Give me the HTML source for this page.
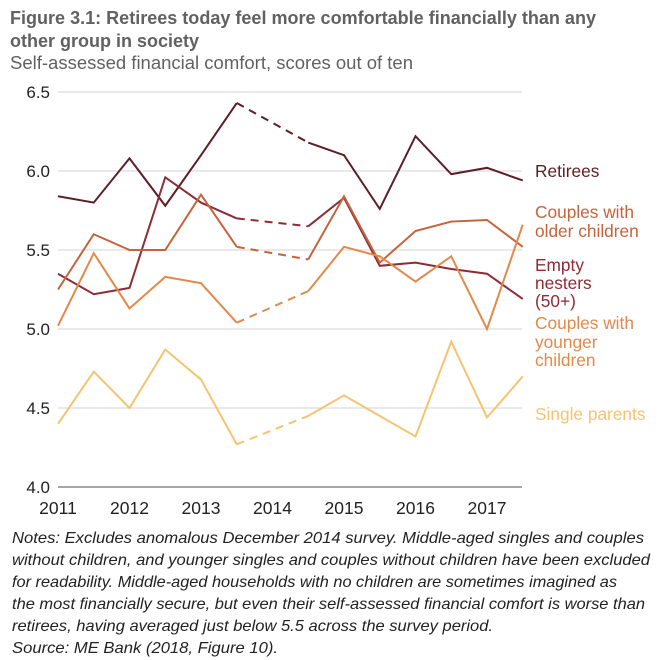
<!DOCTYPE html>
<html><head><meta charset="utf-8"><style>
body{margin:0;background:#fff;font-family:"Liberation Sans",sans-serif;}
svg{display:block}
</style></head><body>
<svg width="660" height="660" viewBox="0 0 660 660">
<text x="10" y="24" font-size="18" font-weight="bold" fill="#616161" textLength="586" lengthAdjust="spacingAndGlyphs">Figure 3.1: Retirees today feel more comfortable financially than any</text>
<text x="10" y="47" font-size="18" font-weight="bold" fill="#616161">other group in society</text>
<text x="10" y="69" font-size="18" fill="#616161" textLength="403" lengthAdjust="spacingAndGlyphs">Self-assessed financial comfort, scores out of ten</text>
<g id="grid"></g><g id="series"></g><g id="labels"></g>
<g font-style="italic" font-size="16" fill="#222">
<text x="12" y="543" textLength="632" lengthAdjust="spacingAndGlyphs">Notes: Excludes anomalous December 2014 survey. Middle-aged singles and couples</text>
<text x="12" y="565" textLength="638" lengthAdjust="spacingAndGlyphs">without children, and younger singles and couples without children have been excluded</text>
<text x="12" y="587" textLength="605" lengthAdjust="spacingAndGlyphs">for readability. Middle-aged households with no children are sometimes imagined as</text>
<text x="12" y="609" textLength="633" lengthAdjust="spacingAndGlyphs">the most financially secure, but even their self-assessed financial comfort is worse than</text>
<text x="12" y="631" textLength="481" lengthAdjust="spacingAndGlyphs">retirees, having averaged just below 5.5 across the survey period.</text>
<text x="12" y="653" textLength="266" lengthAdjust="spacingAndGlyphs">Source: ME Bank (2018, Figure 10).</text>
</g>
</svg>
<script>
const times=[2011,2011.5,2012,2012.5,2013,2013.5,2014.5,2015,2015.5,2016,2016.5,2017,2017.5];
const retirees=[5.84,5.80,6.08,5.78,6.10,6.43,6.18,6.10,5.76,6.22,5.98,6.02,5.94];
const emptyNesters=[5.35,5.22,5.26,5.96,5.80,5.70,5.65,5.83,5.40,5.42,5.38,5.35,5.19];
const olderChildren=[5.25,5.60,5.50,5.50,5.85,5.52,5.44,5.84,5.42,5.62,5.68,5.69,5.52];
const youngerChildren=[5.02,5.48,5.13,5.33,5.29,5.04,5.24,5.52,5.46,5.30,5.46,5.00,5.66];
const singleParents=[4.40,4.73,4.50,4.87,4.68,4.27,4.45,4.58,4.45,4.32,4.92,4.44,4.70];
const yTicks=[4.0,4.5,5.0,5.5,6.0,6.5];
const xTicks=[2011,2012,2013,2014,2015,2016,2017];
const dashAfter=5;
const NS="http://www.w3.org/2000/svg";
const x=t=>58+(t-2011)*71.5;
const y=v=>487-(v-4)*158;
function mk(tag,attrs,parent,text){const e=document.createElementNS(NS,tag);for(const k in attrs)e.setAttribute(k,attrs[k]);if(text!==undefined)e.textContent=text;parent.appendChild(e);return e;}
const grid=document.getElementById('grid');
yTicks.forEach(v=>{
  const l=mk('line',{x1:58,x2:522,y1:y(v),y2:y(v),stroke:v===4?'#888':'#dcdcdc','stroke-width':v===4?1.5:1.2},grid);
  
  
  const t=mk('text',{x:50,y:y(v)+6,'text-anchor':'end','font-size':17,fill:'#222'},grid,v.toFixed(1));
  
  
});
xTicks.forEach(v=>{
  const t=mk('text',{x:x(v),y:514,'text-anchor':'middle','font-size':17.5,fill:'#222'},grid,String(v));
  
  
});
const ser=document.getElementById('series');
const defs=[
 ['retirees',retirees,'#5c1e27'],
 ['empty-nesters',emptyNesters,'#8b2c37'],
 ['couples-older-children',olderChildren,'#c4643d'],
 ['couples-younger-children',youngerChildren,'#e2894b'],
 ['single-parents',singleParents,'#f4c471']
];
defs.forEach(([name,vals,col])=>{
  const pts=vals.map((v,i)=>x(times[i])+','+y(v));
  const a=mk('polyline',{points:pts.slice(0,dashAfter+1).join(' '),fill:'none',stroke:col,'stroke-width':2},ser);
  
  
  const b=mk('polyline',{points:pts.slice(dashAfter,dashAfter+2).join(' '),fill:'none',stroke:col,'stroke-width':2,'stroke-dasharray':'8,6'},ser);
  
  
  const c=mk('polyline',{points:pts.slice(dashAfter+1).join(' '),fill:'none',stroke:col,'stroke-width':2},ser);
  
  
});
const lab=document.getElementById('labels');
const legend=[
 ['legend-retirees','#5c1e27',[['Retirees',177]]],
 ['legend-couples-older','#c4643d',[['Couples with',218],['older children',237]]],
 ['legend-empty-nesters','#8b2c37',[['Empty',271],['nesters',289],['(50+)',307]]],
 ['legend-couples-younger','#e2894b',[['Couples with',329],['younger',348],['children',366]]],
 ['legend-single-parents','#f4c471',[['Single parents',420]]]
];
legend.forEach(([n,col,lines])=>{
  const g=mk('g',{},lab);
  
  
  lines.forEach(([t,yy])=>mk('text',{x:535,y:yy,'font-size':17.3,fill:col},g,t));
});
</script>
</body></html>
